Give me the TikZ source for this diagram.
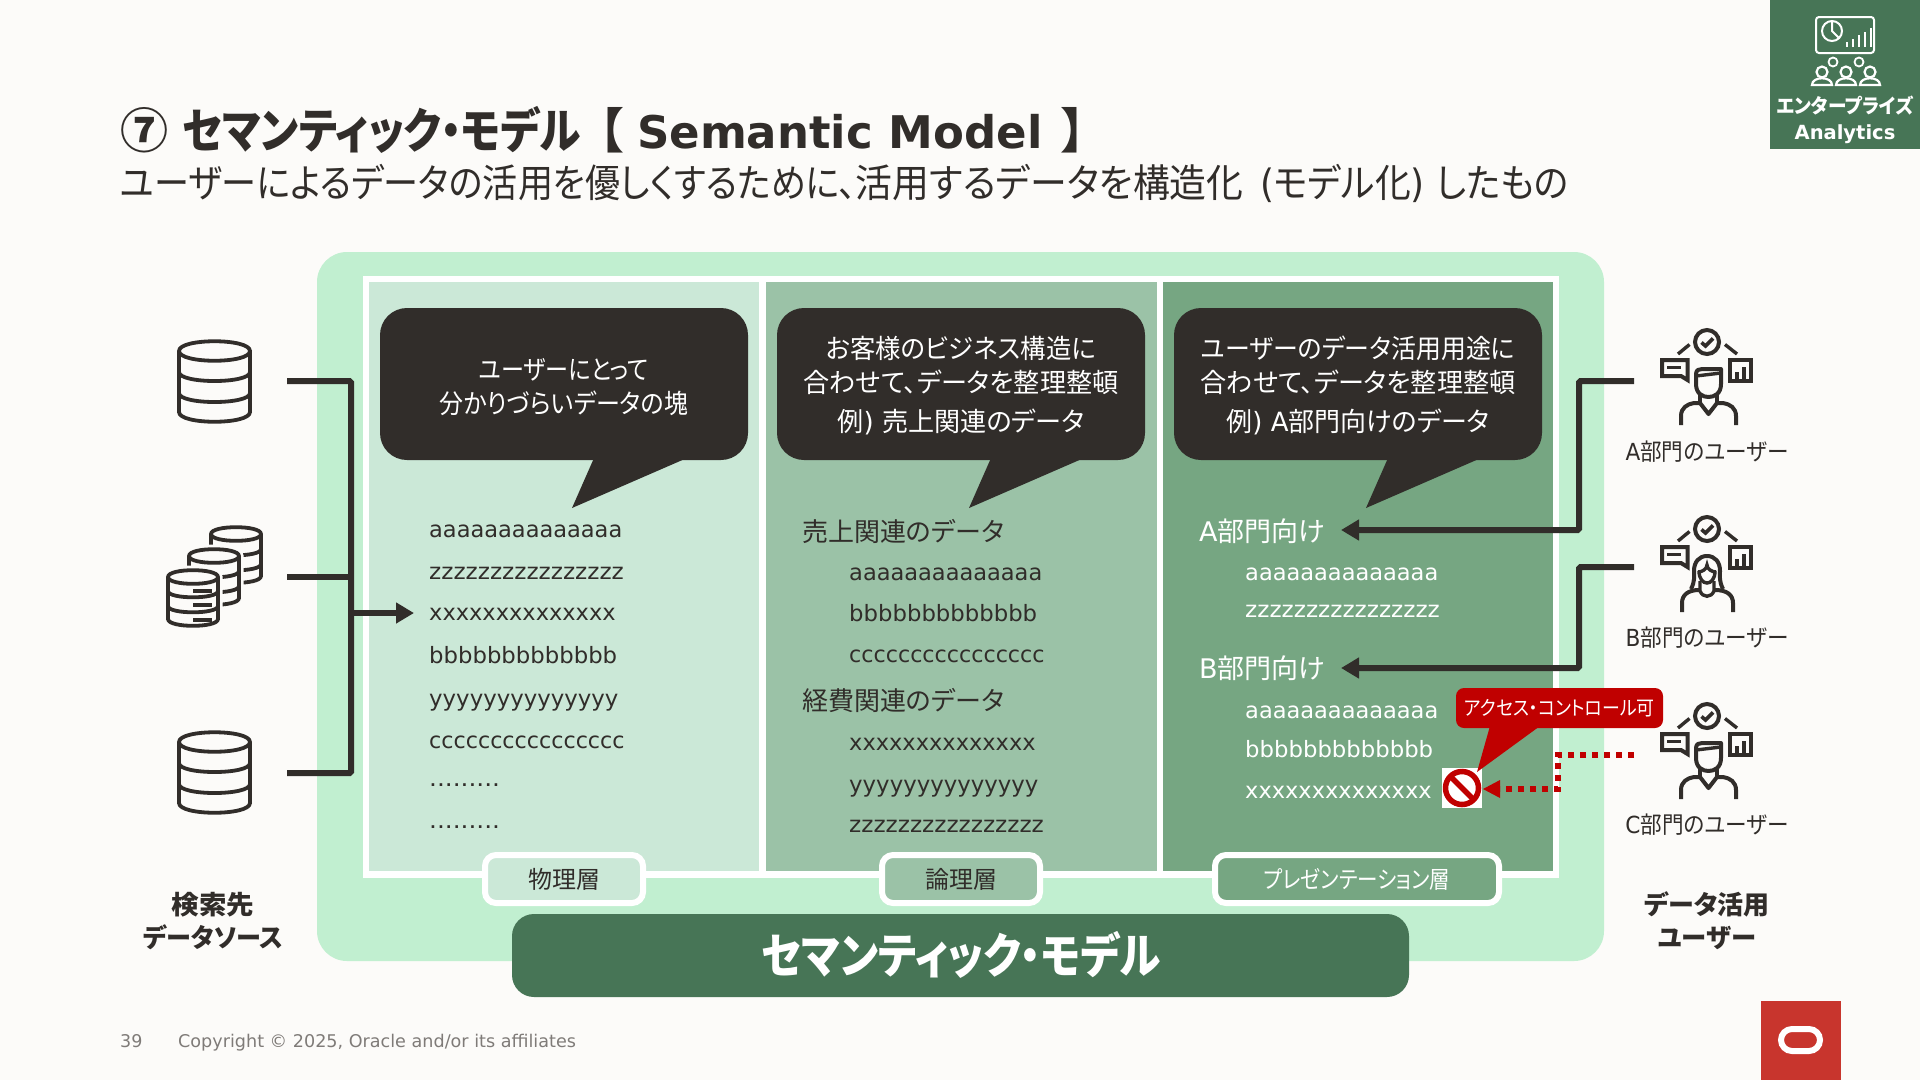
\documentclass[tikz,border=0pt]{standalone}
\usepackage{fontspec}
\usetikzlibrary{arrows.meta}
\setmainfont{DejaVu Sans}
\newfontfamily\jp[RawFeature=+palt]{Noto Sans CJK JP}
\newcommand\fs[1]{\fontsize{#1}{#1}\selectfont}
\newcommand\J[1]{{\jp #1}}
\newcommand\W[2]{\scalebox{#1}[1]{#2}}
\definecolor{ink}{HTML}{312D2A}
\definecolor{bgc}{HTML}{FCFBF9}
\definecolor{mint}{HTML}{C1EFD0}
\definecolor{pa}{HTML}{CBE8D7}
\definecolor{pb}{HTML}{9BC2A7}
\definecolor{pc}{HTML}{76A682}
\definecolor{dk}{HTML}{477556}
\definecolor{rd}{HTML}{C00000}
\definecolor{foot}{HTML}{7F7B78}
\definecolor{orc}{HTML}{C8352D}
\tikzset{
  x=1pt,y=-1pt,
  tx/.style={inner sep=0pt,anchor=base,text=ink},
  txl/.style={inner sep=0pt,anchor=base west,text=ink},
  wl/.style={inner sep=0pt,anchor=base west,text=white},
  wc/.style={inner sep=0pt,anchor=base,text=white},
  lat/.style={font=\fs{22.5}},
  head/.style={font=\fs{26}},
  bubble/.style={draw=none,fill=ink,rounded corners=27pt,inner sep=0pt,minimum width=368pt,minimum height=152pt},
  tab/.style={draw=white,line width=6pt,rounded corners=11pt,inner sep=0pt,minimum height=48pt},
  conn/.style={draw=ink,line width=6pt,rounded corners=1.5pt},
  arr/.style={-{Triangle[length=18pt,width=20pt]}},
  ic/.style={draw=ink,line width=4pt},
  icb/.style={draw=white,line width=2pt},
  dbline/.style={draw=ink,line width=3.8pt,fill=bgc,line join=round},
}
% cylinder: centre of the top ellipse #1,#2; half width #3; ry #4; height #5; bands #6 and #7
\newcommand\dbcyl[7]{%
  \begin{scope}[shift={(#1,#2)}]
    \path[draw=bgc,line width=9pt,fill=bgc] (-#3,0) -- (-#3,#5) arc[start angle=180,end angle=360,x radius=#3,y radius=-#4] -- (#3,0) arc[start angle=0,end angle=180,x radius=#3,y radius=-#4] -- cycle;
    \path[dbline] (-#3,0) -- (-#3,#5) .. controls (-#3,#5+#4*1.3) and (#3,#5+#4*1.3) .. (#3,#5) -- (#3,0) .. controls (#3,-#4*1.3) and (-#3,-#4*1.3) .. (-#3,0) -- cycle;
    \draw[ink,line width=3.8pt] (-#3,0) .. controls (-#3,#4*1.3) and (#3,#4*1.3) .. (#3,0);
    \draw[ink,line width=3.8pt] (-#3,#6) .. controls (-#3,#6+#4*1.2) and (#3,#6+#4*1.2) .. (#3,#6);
    \draw[ink,line width=3.8pt] (-#3,#7) .. controls (-#3,#7+#4*1.2) and (#3,#7+#4*1.2) .. (#3,#7);
  \end{scope}}
% parts common to both user icons
\newcommand\usertop{%
  \draw[ic] (0,0) circle[radius=12];
  \draw[ic,line width=3.6pt] (-5.5,0.5) -- (-1.5,4) -- (6,-3.5);
  \draw[ic,line width=3.4pt] (-29,12) -- (-17.5,2.5);
  \draw[ic,line width=3.4pt] (18,2.5) -- (30,12);
  \draw[ic,line join=miter] (-45,18) -- (-19.5,18) -- (-19.5,38) -- (-26,34) -- (-45,34) -- cycle;
  \draw[ic,line width=3.6pt] (-40,25.5) -- (-26,25.5);
  \draw[ic,line join=miter] (23,18) rectangle (44,39);
  \fill[ink] (28,30) rectangle (32,38);
  \fill[ink] (35,25) rectangle (39,38);}
\newcommand\usermale[2]{%
  \begin{scope}[shift={(#1,#2)}]
    \usertop
    \draw[ic,line join=round] (-11,42) -- (-11,32) .. controls (-11,28) and (-8,27) .. (-5,27) -- (14,27) -- (14,42) .. controls (14,52) and (7,55) .. (1.5,55) .. controls (-4,55) and (-11,52) .. (-11,42);
    \draw[ic,line width=3.4pt] (-11,34) -- (14,31);
    \draw[ic,line width=3.6pt] (-7,53) -- (-7,61);
    \draw[ic,line width=3.6pt] (10,53) -- (10,61);
    \draw[ic,line join=round] (-26,83) -- (-26,74) .. controls (-26,66) and (-20,62) .. (-13,61) -- (-7,61) -- (1.5,72) -- (10,61) -- (16,61) .. controls (23,62) and (29,66) .. (29,74) -- (29,83);
  \end{scope}}
\newcommand\userfemale[2]{%
  \begin{scope}[shift={(#1,#2)}]
    \usertop
    \draw[ic,line join=round] (-16,60) .. controls (-12,52) and (-13,48) .. (-13,42) .. controls (-13,33) and (-8,27) .. (0,27) .. controls (8,27) and (13,33) .. (13,42) .. controls (13,48) and (12,52) .. (16,60);
    \draw[ic,line width=3.4pt] (-9,43) .. controls (-5,43) and (0,40) .. (0,36) .. controls (0,40) and (5,43) .. (9,43);
    \draw[ic,line width=3.4pt] (-8,42) .. controls (-8,50) and (-4,54) .. (0,54) .. controls (4,54) and (8,50) .. (8,42);
    \draw[ic,line width=3.4pt] (-7,52) -- (-7,62) .. controls (-4,69) and (4,69) .. (7,62) -- (7,52);
    \draw[ic,line join=round] (-25,83) -- (-25,74) .. controls (-25,66) and (-19,61) .. (-8,61);
    \draw[ic,line join=round] (26,83) -- (26,74) .. controls (26,66) and (20,61) .. (8,61);
  \end{scope}}
\begin{document}
\begin{tikzpicture}
\useasboundingbox (0,0) rectangle (1920,1080);
\fill[bgc] (0,0) rectangle (1920,1080);

% top right badge
\fill[dk] (1770,0) rectangle (1920,149);
\draw[icb,rounded corners=3pt] (1816,17) rectangle (1874,53);
\draw[icb] (1832,31) circle[radius=10];
\draw[icb] (1832,21) -- (1832,31) -- (1839,38);
\foreach \bx/\by in {1847/42,1853/39,1859/35,1865/32,1871/28}{\draw[white,line width=1.4pt] (\bx,47) -- (\bx,\by);}
\foreach \cx/\cy in {1833/62,1859/62}{\draw[icb,line width=1.8pt] (\cx,\cy) circle[radius=4.5];}
\foreach \cx in {1822,1846,1870}{
  \draw[icb,line width=2.2pt] (\cx,72) circle[radius=5.5];
  \draw[icb,line width=2.2pt] (\cx-10,85) .. controls (\cx-10,76) and (\cx+10,76) .. (\cx+10,85) -- cycle;}
\node[wc,font=\bfseries\fs{20}] (badgeA) at (1845,113) {\W{.93}{\J{エンタープライズ}}};
\node[wc,font=\bfseries\fs{19.5}] (badgeB) at (1845,139) {Analytics};

% title
\node[txl,font=\bfseries\fs{48}] (title) at (120,148) {\J{⑦}\hspace{14pt}\W{.87}{\J{セマンティック・モデル}}\hspace{18pt}\J{【}\hspace{14pt}{\fs{45}Semantic Model}\hspace{19pt}\J{】}};
\node[txl,font=\fs{39}] (subtitle) at (120,197) {\W{.899}{\J{ユーザーによるデータの活用を優しくするために、}}\W{.945}{\J{活用するデータを構造化}}\hspace{5pt}\W{.918}{ (\J{モデル化}) \J{したもの}}};

% main area
\fill[mint,rounded corners=30pt] (317,252) rectangle (1604,961);
\fill[white] (363,276) rectangle (1559,878);
\fill[pa] (369,282) rectangle (759,871);
\fill[pb] (766,282) rectangle (1157,871);
\fill[pc] (1163,282) rectangle (1553,871);

% bubbles
\node[bubble] (bubA) at (564,384) {};
\node[bubble] (bubB) at (961,384) {};
\node[bubble] (bubC) at (1358,384) {};
\fill[ink] (594,458) -- (572,508) -- (687,458) -- cycle;
\fill[ink] (991,458) -- (969,508) -- (1084,458) -- cycle;
\fill[ink] (1388,458) -- (1366,508) -- (1481,458) -- cycle;
\node[wc,font=\fs{26.5}] (ba1) at (564,379) {\W{.87}{\J{ユーザーにとって}}};
\node[wc,font=\fs{26.5}] (ba2) at (564,413) {\W{.906}{\J{分かりづらいデータの塊}}};
\node[wc,font=\fs{26.5}] (bb1) at (961,358) {\W{.957}{\J{お客様のビジネス構造に}}};
\node[wc,font=\fs{26.5}] (bb2) at (961,392) {\W{.985}{\J{合わせて、データを整理整頓}}};
\node[wc,font=\fs{26.5}] (bb3) at (961,431) {\W{.985}{\J{例}) \J{売上関連のデータ}}};
\node[wc,font=\fs{26.5}] (bc1) at (1358,358) {\W{.94}{\J{ユーザーのデータ活用用途に}}};
\node[wc,font=\fs{26.5}] (bc2) at (1358,392) {\W{.985}{\J{合わせて、データを整理整頓}}};
\node[wc,font=\fs{26.5}] (bc3) at (1358,431) {\W{.98}{\J{例}) A\J{部門向けのデータ}}};

% panel 1 text
\node[txl,lat] (a1) at (429,537) {aaaaaaaaaaaaaa};
\node[txl,lat] (a2) at (429,579) {\W{1.03}{zzzzzzzzzzzzzzzz}};
\node[txl,lat] (a3) at (429,620) {xxxxxxxxxxxxxx};
\node[txl,lat] (a4) at (429,663) {\W{1.012}{bbbbbbbbbbbbb}};
\node[txl,lat] (a5) at (429,706) {\W{1.015}{yyyyyyyyyyyyyy}};
\node[txl,lat] (a6) at (429,748) {\W{.987}{cccccccccccccccc}};
\node[txl,lat] (a7) at (429,786) {\W{1.1}{.........}};
\node[txl,lat] (a8) at (429,828) {\W{1.1}{.........}};

% panel 2 text
\node[txl,head] (h1) at (802,541) {\J{売上関連のデータ}};
\node[txl,lat] (b1) at (849,580) {aaaaaaaaaaaaaa};
\node[txl,lat] (b2) at (849,621) {\W{1.012}{bbbbbbbbbbbbb}};
\node[txl,lat] (b3) at (849,662) {\W{.987}{cccccccccccccccc}};
\node[txl,head] (h2) at (802,710) {\J{経費関連のデータ}};
\node[txl,lat] (b4) at (849,750) {xxxxxxxxxxxxxx};
\node[txl,lat] (b5) at (849,792) {\W{1.015}{yyyyyyyyyyyyyy}};
\node[txl,lat] (b6) at (849,832) {\W{1.03}{zzzzzzzzzzzzzzzz}};

% panel 3 text
\node[wl,head,font=\fs{27}] (h3) at (1199,541) {A\J{部門向け}};
\node[wl,lat] (c1) at (1245,580) {aaaaaaaaaaaaaa};
\node[wl,lat] (c2) at (1245,617) {\W{1.03}{zzzzzzzzzzzzzzzz}};
\node[wl,head,font=\fs{27}] (h4) at (1199,678) {B\J{部門向け}};
\node[wl,lat] (c3) at (1245,718) {aaaaaaaaaaaaaa};
\node[wl,lat] (c4) at (1245,757) {\W{1.012}{bbbbbbbbbbbbb}};
\node[wl,lat] (c5) at (1245,798) {xxxxxxxxxxxxxx};

% tabs
\node[tab,fill=pa,minimum width=158pt,text=ink,font=\fs{24}] (tabA) at (564,879) {\J{物理層}};
\node[tab,fill=pb,minimum width=158pt,text=ink,font=\fs{24}] (tabB) at (961,879) {\J{論理層}};
\node[tab,fill=pc,minimum width=284pt,text=white,font=\fs{24}] (tabC) at (1357,879) {\W{.855}{\J{プレゼンテーション層}}};
\fill[dk,rounded corners=22pt] (512,914) rectangle (1409,997);
\node[wc,font=\bfseries\fs{48}] (bar) at (961,973) {\W{.87}{\J{セマンティック・モデル}}};

% databases
\dbcyl{214.5}{351}{35.5}{10}{61}{21}{42}
\dbcyl{214.5}{742}{35.5}{10}{61}{21}{42}
\dbcyl{236}{534}{25}{7}{42}{15}{30}
\dbcyl{214}{556}{25}{7}{42}{15}{30}
\dbcyl{193}{577}{25}{7}{42}{14}{29}
\fill[ink] (193,589) rectangle (212,593);
\fill[ink] (193,603) rectangle (212,607);
\fill[ink] (193,618) rectangle (212,622);

% left connectors
\coordinate (s1) at (287,381);
\coordinate (s2) at (287,577);
\coordinate (s3) at (287,773);
\coordinate (jt) at (351,381);
\coordinate (je) at (351,773);
\coordinate (jm) at (351,577);
\coordinate (ja) at (351,613);
\coordinate (tipL) at (414,613);
\draw[conn] (s1) -- (jt) -- (je) -- (s3);
\draw[conn] (s2) -- (jm);
\draw[conn,rounded corners=0pt,arr] (ja) -- (tipL);

% user icons
\usermale{1707}{342}
\userfemale{1707}{529}
\usermale{1707}{716}

% right connectors
\coordinate (uA) at (1634,381);
\coordinate (uB) at (1634,567);
\coordinate (uC) at (1634,755);
\coordinate (tipA) at (1341,530);
\coordinate (tipB) at (1341,668);
\draw[conn,arr] (uA) -- (1579,381) -- (1579,530) -- (tipA);
\draw[conn,arr] (uB) -- (1579,567) -- (1579,668) -- (tipB);

% access control
\node[fill=white,inner sep=0pt,minimum size=40pt] (noBox) at (1462,788) {};
\draw[rd,line width=5.5pt] (noBox.center) circle[radius=16.5];
\draw[rd,line width=5.5pt] (1450.5,776.5) -- (1473.5,799.5);
\draw[rd,line width=6pt,dash pattern=on 6pt off 6pt,-] (uC) -- (1558,755) -- (1558,789) -- (1500,789);
\fill[rd] (1483,789) -- (1500,780) -- (1500,798) -- cycle;
\fill[rd] (1490,726) -- (1477,772) -- (1540,726) -- cycle;
\node[fill=rd,rounded corners=8pt,inner sep=0pt,minimum width=207pt,minimum height=40pt,text=white,font=\fs{20}] (callout) at (1559.5,708) {\raisebox{-1.5pt}{\W{.895}{\J{アクセス・コントロール可}}}};

% labels
\node[tx,font=\fs{23.5}] (ua) at (1707,460) {\W{.92}{A\J{部門のユーザー}}};
\node[tx,font=\fs{23.5}] (ub) at (1707,646) {\W{.92}{B\J{部門のユーザー}}};
\node[tx,font=\fs{23.5}] (uc) at (1707,833) {\W{.92}{C\J{部門のユーザー}}};
\node[tx,font=\bfseries\fs{26}] (sa) at (213,914) {\W{1.06}{\J{検索先}}};
\node[tx,font=\bfseries\fs{26}] (sb) at (213,947) {\W{.966}{\J{データソース}}};
\node[tx,font=\bfseries\fs{26}] (da) at (1707,914) {\J{データ活用}};
\node[tx,font=\bfseries\fs{26}] (db) at (1707,947) {\W{.975}{\J{ユーザー}}};

% footer
\node[txl,text=foot,font=\fs{17.5}] (pg) at (120,1047) {39};
\node[txl,text=foot,font=\fs{17.5}] (cr) at (178,1047) {\W{1.005}{Copyright © 2025, Oracle and/or its affiliates}};
\fill[orc] (1761,1001) rectangle (1841,1080);
\draw[white,line width=6pt,rounded corners=11pt] (1781,1029) rectangle (1820,1051);
\end{tikzpicture}
\end{document}
